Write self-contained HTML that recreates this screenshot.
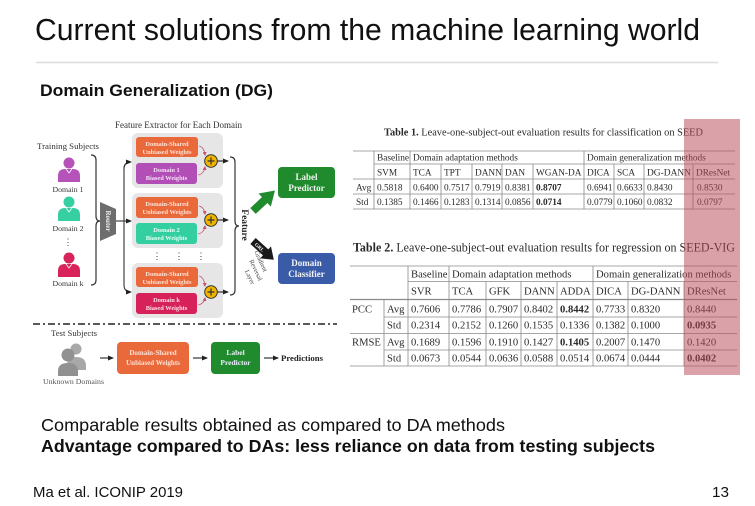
<!DOCTYPE html>
<html><head><meta charset="utf-8">
<style>
html,body{margin:0;padding:0;background:#fff;width:755px;height:506px;overflow:hidden}
svg{display:block}
.s{font-family:"Liberation Sans",Arial,sans-serif}
.r{font-family:"Liberation Serif","Times New Roman",serif}
</style></head><body>
<svg width="755" height="506" viewBox="0 0 755 506" xmlns="http://www.w3.org/2000/svg">
<defs>
<marker id="ah" markerWidth="6" markerHeight="6" refX="5" refY="3" orient="auto" markerUnits="userSpaceOnUse"><path d="M0,0.5 L6,3 L0,5.5 Z" fill="#222"/></marker>
<marker id="ap" markerWidth="4" markerHeight="4" refX="3" refY="2" orient="auto" markerUnits="userSpaceOnUse"><path d="M0,0 L4,2 L0,4 Z" fill="#c8506a"/></marker>
</defs>

<!-- slide text -->
<text class="s" x="35" y="40" font-size="31" textLength="665" lengthAdjust="spacingAndGlyphs" fill="#111">Current solutions from the machine learning world</text>
<line x1="36" y1="62.5" x2="718" y2="62.5" stroke="#dcdcdc" stroke-width="1.5"/>
<text class="s" x="40" y="96" font-size="17" font-weight="bold" textLength="233" lengthAdjust="spacingAndGlyphs" fill="#111">Domain Generalization (DG)</text>
<text class="s" x="41" y="431" font-size="17.5" textLength="464" lengthAdjust="spacingAndGlyphs" fill="#111">Comparable results obtained as compared to DA methods</text>
<text class="s" x="41" y="452" font-size="17.5" font-weight="bold" textLength="614" lengthAdjust="spacingAndGlyphs" fill="#111">Advantage compared to DAs: less reliance on data from testing subjects</text>
<text class="s" x="33" y="497" font-size="15" textLength="150" lengthAdjust="spacingAndGlyphs" fill="#111">Ma et al. ICONIP 2019</text>
<text class="s" x="712" y="497" font-size="15" textLength="17" lengthAdjust="spacingAndGlyphs" fill="#111">13</text>

<!-- ================= DIAGRAM ================= -->
<g class="r" fill="#333">
<text x="115" y="128" font-size="9" textLength="127" lengthAdjust="spacingAndGlyphs">Feature Extractor for Each Domain</text>
<text x="37" y="149" font-size="8.7" textLength="62" lengthAdjust="spacingAndGlyphs">Training Subjects</text>
<text x="68" y="192" font-size="7.8" text-anchor="middle">Domain 1</text>
<text x="68" y="231" font-size="7.8" text-anchor="middle">Domain 2</text>
<text x="68" y="245" font-size="9" text-anchor="middle">⋮</text>
<text x="68" y="286" font-size="7.8" text-anchor="middle">Domain k</text>
</g>

<!-- persons -->
<g>
<circle cx="69" cy="163" r="5.5" fill="#b553b9"/>
<path d="M58,182 L58,176 Q58,169 65,169 L73,169 Q80,169 80,176 L80,182 Z" fill="#b553b9"/>
<path d="M66,169 L69,173 L72,169" stroke="#fff" fill="none" stroke-width="0.8"/>
<circle cx="69" cy="202" r="5.5" fill="#35cfa2"/>
<path d="M58,221 L58,215 Q58,208 65,208 L73,208 Q80,208 80,215 L80,221 Z" fill="#35cfa2"/>
<path d="M66,208 L69,212 L72,208" stroke="#fff" fill="none" stroke-width="0.8"/>
<circle cx="69" cy="258" r="5.5" fill="#d8245a"/>
<path d="M58,277 L58,271 Q58,264 65,264 L73,264 Q80,264 80,271 L80,277 Z" fill="#d8245a"/>
<path d="M66,264 L69,268 L72,264" stroke="#fff" fill="none" stroke-width="0.8"/>
</g>

<!-- left brace -->
<path d="M91,155 Q96,155 96,160 L96,216 Q96,221 100,221 Q96,221 96,226 L96,280 Q96,285 91,285" fill="none" stroke="#333" stroke-width="1.2"/>

<!-- router -->
<polygon points="100,202 116,209 116,234 100,241" fill="#6d6d6d"/>
<text class="r" transform="translate(106,221) rotate(90)" font-size="7" font-weight="bold" fill="#eee" text-anchor="middle">Router</text>

<!-- router branches -->
<path d="M131,162 Q124,162 124,169 L124,285 Q124,292 131,292" fill="none" stroke="#333" stroke-width="1.1" marker-end="url(#ah)"/>
<path d="M124,169 Q124,162 131,162" fill="none" stroke="#333" stroke-width="1.1" marker-end="url(#ah)"/>
<line x1="116" y1="221" x2="131" y2="221" stroke="#333" stroke-width="1.1" marker-end="url(#ah)"/>

<!-- groups -->
<rect x="132" y="133" width="91" height="55" rx="6" fill="#e6e6e6"/>
<rect x="132" y="193" width="91" height="55" rx="6" fill="#e6e6e6"/>
<rect x="132" y="263" width="91" height="55" rx="6" fill="#e6e6e6"/>

<g class="r" font-size="6.4" font-weight="bold" fill="#fde2d6" text-anchor="middle">
<rect x="136" y="137" width="62" height="20" rx="3" fill="#e9693a"/>
<text x="167" y="146">Domain-Shared</text><text x="167" y="154">Unbiased Weights</text>
<rect x="136" y="163" width="61" height="21" rx="3" fill="#b14fb6"/>
<text x="166.5" y="172" fill="#f6e0f6">Domain 1</text><text x="166.5" y="180" fill="#f6e0f6">Biased Weights</text>

<rect x="136" y="197" width="62" height="21" rx="3" fill="#e9693a"/>
<text x="167" y="206">Domain-Shared</text><text x="167" y="214">Unbiased Weights</text>
<rect x="136" y="223" width="61" height="21" rx="3" fill="#33cfa1"/>
<text x="166.5" y="232" fill="#e8fff6">Domain 2</text><text x="166.5" y="240" fill="#e8fff6">Biased Weights</text>

<rect x="136" y="267" width="62" height="20" rx="3" fill="#e9693a"/>
<text x="167" y="276">Domain-Shared</text><text x="167" y="284">Unbiased Weights</text>
<rect x="136" y="293" width="61" height="21" rx="3" fill="#d6215a"/>
<text x="166.5" y="302" fill="#ffe0ea">Domain k</text><text x="166.5" y="310" fill="#ffe0ea">Biased Weights</text>
</g>

<!-- dots between groups -->
<g class="r" font-size="9" fill="#333" text-anchor="middle">
<text x="157" y="259">⋮</text><text x="179" y="259">⋮</text><text x="201" y="259">⋮</text>
</g>

<!-- small pink arrows -->
<g fill="none" stroke="#c8506a" stroke-width="0.8">
<path d="M199,146 Q204,147 205,155" marker-end="url(#ap)"/>
<path d="M198,175 Q204,174 205,167" marker-end="url(#ap)"/>
<path d="M199,206 Q204,207 205,214" marker-end="url(#ap)"/>
<path d="M198,234 Q204,233 205,226" marker-end="url(#ap)"/>
<path d="M199,276 Q204,277 205,286" marker-end="url(#ap)"/>
<path d="M198,305 Q204,304 205,298" marker-end="url(#ap)"/>
</g>

<!-- plus circles -->
<g stroke="#333">
<circle cx="211" cy="161" r="6.3" fill="#f1b500" stroke-width="1"/>
<path d="M207.5,161 H214.5 M211,157.5 V164.5" stroke-width="1.2"/>
<circle cx="211" cy="220" r="6.3" fill="#f1b500" stroke-width="1"/>
<path d="M207.5,220 H214.5 M211,216.5 V223.5" stroke-width="1.2"/>
<circle cx="211" cy="292" r="6.3" fill="#f1b500" stroke-width="1"/>
<path d="M207.5,292 H214.5 M211,288.5 V295.5" stroke-width="1.2"/>
</g>
<g stroke="#222" stroke-width="1.1">
<line x1="217" y1="161" x2="228" y2="161" marker-end="url(#ah)"/>
<line x1="217" y1="220" x2="228" y2="220" marker-end="url(#ah)"/>
<line x1="217" y1="292" x2="228" y2="292" marker-end="url(#ah)"/>
</g>

<!-- right brace -->
<path d="M230,157 Q235,157 235,162 L235,221 Q235,226 239,226 Q235,226 235,231 L235,290 Q235,295 230,295" fill="none" stroke="#333" stroke-width="1.2"/>
<text class="r" transform="translate(242,225) rotate(90)" font-size="9.5" font-weight="bold" fill="#222" text-anchor="middle">Feature</text>

<!-- green arrow -->
<polygon transform="translate(253,211) rotate(-43)" points="0,-4 16,-4 16,-9 30,0 16,9 16,4 0,4" fill="#1f8b2c"/>
<!-- GRL arrow -->
<g transform="translate(253,241) rotate(42)">
<polygon points="0,-4 17,-4 17,-8 28,0 17,8 17,4 0,4" fill="#1a1a1a"/>
<text class="r" x="9" y="2" font-size="5" font-weight="bold" fill="#fff" text-anchor="middle">GRL</text>
</g>
<g class="r" font-size="6.5" fill="#444" text-anchor="middle">
<text transform="translate(259,262) rotate(65)">Gradient</text>
<text transform="translate(254,271) rotate(65)">Reversal</text>
<text transform="translate(248,278) rotate(65)">Layer</text>
</g>

<!-- predictor / classifier -->
<rect x="278" y="167" width="57" height="31" rx="4" fill="#1f8b2c"/>
<rect x="278" y="253" width="57" height="31" rx="4" fill="#3a5ba8"/>
<g class="r" font-size="9" font-weight="bold" fill="#f4f4f4" text-anchor="middle">
<text x="306.5" y="180">Label</text><text x="306.5" y="191">Predictor</text>
<text x="306.5" y="266">Domain</text><text x="306.5" y="277">Classifier</text>
</g>

<!-- separator dash-dot -->
<line x1="33" y1="324" x2="337" y2="324" stroke="#222" stroke-width="1.5" stroke-dasharray="7 3 2 3"/>

<!-- test part -->
<text class="r" x="51" y="336" font-size="8.6" fill="#333" textLength="46" lengthAdjust="spacingAndGlyphs">Test Subjects</text>
<circle cx="76" cy="349" r="5.5" fill="#a8a8a8"/>
<path d="M66,370 Q66,357 76,357 Q86,357 86,366 L86,370 Z" fill="#a8a8a8"/>
<circle cx="68" cy="355" r="6.5" fill="#919191"/>
<path d="M58,376 L58,371 Q58,363 68,363 Q78,363 78,371 L78,376 Z" fill="#919191"/>
<text class="r" x="43" y="384" font-size="7.8" fill="#555" textLength="61" lengthAdjust="spacingAndGlyphs">Unknown Domains</text>
<line x1="100" y1="358" x2="113" y2="358" stroke="#222" stroke-width="1.1" marker-end="url(#ah)"/>
<rect x="117" y="342" width="72" height="32" rx="4" fill="#e9693a"/>
<g class="r" font-size="7" font-weight="bold" fill="#fde2d6" text-anchor="middle">
<text x="153" y="355">Domain-Shared</text><text x="153" y="365">Unbiased Weights</text>
</g>
<line x1="193" y1="358" x2="207" y2="358" stroke="#222" stroke-width="1.1" marker-end="url(#ah)"/>
<rect x="211" y="342" width="49" height="32" rx="4" fill="#1f8b2c"/>
<g class="r" font-size="7.5" font-weight="bold" fill="#eef" text-anchor="middle">
<text x="235.5" y="355">Label</text><text x="235.5" y="365">Predictor</text>
</g>
<line x1="264" y1="358" x2="278" y2="358" stroke="#222" stroke-width="1.1" marker-end="url(#ah)"/>
<text class="r" x="281" y="361" font-size="8.7" font-weight="bold" fill="#222" textLength="42" lengthAdjust="spacingAndGlyphs">Predictions</text>

<!-- ================= TABLE 1 ================= -->
<g class="r" fill="#2a2a2a">
<text x="384" y="135.5" font-size="10.8" textLength="319" lengthAdjust="spacingAndGlyphs"><tspan font-weight="bold">Table 1.</tspan> Leave-one-subject-out evaluation results for classification on SEED</text>
</g>
<g stroke="#8a8a8a" stroke-width="0.8">
<line x1="353" y1="151" x2="735" y2="151"/>
<line x1="374" y1="164" x2="735" y2="164"/>
<line x1="353" y1="179" x2="735" y2="179"/>
<line x1="353" y1="194" x2="735" y2="194"/>
<line x1="353" y1="209" x2="735" y2="209"/>
<line x1="374" y1="151" x2="374" y2="209"/>
<line x1="410" y1="151" x2="410" y2="209"/>
<line x1="584" y1="151" x2="584" y2="209"/>
<line x1="441" y1="164" x2="441" y2="209"/>
<line x1="472" y1="164" x2="472" y2="209"/>
<line x1="502" y1="164" x2="502" y2="209"/>
<line x1="533" y1="164" x2="533" y2="209"/>
<line x1="614" y1="164" x2="614" y2="209"/>
<line x1="644" y1="164" x2="644" y2="209"/>
<line x1="693" y1="164" x2="693" y2="209"/>
</g>
<g class="r" font-size="9.3" fill="#2a2a2a">
<text x="377" y="160.5">Baseline</text>
<text x="413" y="160.5">Domain adaptation methods</text>
<text x="587" y="160.5">Domain generalization methods</text>
<text x="377" y="175.5">SVM</text><text x="413" y="175.5">TCA</text><text x="444" y="175.5">TPT</text><text x="475" y="175.5">DANN</text><text x="505" y="175.5">DAN</text><text x="536" y="175.5">WGAN-DA</text><text x="587" y="175.5">DICA</text><text x="617" y="175.5">SCA</text><text x="647" y="175.5" textLength="44" lengthAdjust="spacingAndGlyphs">DG-DANN</text><text x="696" y="175.5">DResNet</text>
<text x="356" y="190.5">Avg</text><text x="377" y="190.5">0.5818</text><text x="413" y="190.5">0.6400</text><text x="444" y="190.5">0.7517</text><text x="475" y="190.5">0.7919</text><text x="505" y="190.5">0.8381</text><text x="536" y="190.5" font-weight="bold">0.8707</text><text x="587" y="190.5">0.6941</text><text x="617" y="190.5">0.6633</text><text x="647" y="190.5">0.8430</text><text x="697" y="190.5">0.8530</text>
<text x="356" y="205">Std</text><text x="377" y="205">0.1385</text><text x="413" y="205">0.1466</text><text x="444" y="205">0.1283</text><text x="475" y="205">0.1314</text><text x="505" y="205">0.0856</text><text x="536" y="205" font-weight="bold">0.0714</text><text x="587" y="205">0.0779</text><text x="617" y="205">0.1060</text><text x="647" y="205">0.0832</text><text x="697" y="205">0.0797</text>
</g>

<!-- ================= TABLE 2 ================= -->
<text class="r" x="353" y="251.5" font-size="12.6" fill="#2a2a2a" textLength="382" lengthAdjust="spacingAndGlyphs"><tspan font-weight="bold">Table 2.</tspan> Leave-one-subject-out evaluation results for regression on SEED-VIG</text>
<g stroke="#8a8a8a" stroke-width="0.8">
<line x1="350" y1="266" x2="737" y2="266"/>
<line x1="408" y1="281.5" x2="737" y2="281.5"/>
<line x1="350" y1="299.5" x2="737" y2="299.5" stroke-width="1.2"/>
<line x1="384" y1="317" x2="737" y2="317"/>
<line x1="350" y1="333.5" x2="737" y2="333.5"/>
<line x1="384" y1="350" x2="737" y2="350"/>
<line x1="350" y1="366" x2="737" y2="366"/>
<line x1="384" y1="299.5" x2="384" y2="366"/>
<line x1="408" y1="266" x2="408" y2="366"/>
<line x1="449" y1="266" x2="449" y2="366"/>
<line x1="593" y1="266" x2="593" y2="366"/>
<line x1="486" y1="281.5" x2="486" y2="366"/>
<line x1="521" y1="281.5" x2="521" y2="366"/>
<line x1="557" y1="281.5" x2="557" y2="366"/>
<line x1="628" y1="281.5" x2="628" y2="366"/>
<line x1="684" y1="281.5" x2="684" y2="366"/>
</g>
<g class="r" font-size="10.6" fill="#2a2a2a">
<text x="411" y="277.7">Baseline</text>
<text x="452" y="277.7">Domain adaptation methods</text>
<text x="596" y="277.7">Domain generalization methods</text>
<text x="411" y="294.7">SVR</text><text x="452" y="294.7">TCA</text><text x="489" y="294.7">GFK</text><text x="524" y="294.7">DANN</text><text x="560" y="294.7">ADDA</text><text x="596" y="294.7">DICA</text><text x="631" y="294.7">DG-DANN</text><text x="687" y="294.7">DResNet</text>
<text x="352" y="312.7">PCC</text><text x="387" y="312.7">Avg</text><text x="411" y="312.7">0.7606</text><text x="452" y="312.7">0.7786</text><text x="489" y="312.7">0.7907</text><text x="524" y="312.7">0.8402</text><text x="560" y="312.7" font-weight="bold">0.8442</text><text x="596" y="312.7">0.7733</text><text x="631" y="312.7">0.8320</text><text x="687" y="312.7">0.8440</text>
<text x="387" y="328.7">Std</text><text x="411" y="328.7">0.2314</text><text x="452" y="328.7">0.2152</text><text x="489" y="328.7">0.1260</text><text x="524" y="328.7">0.1535</text><text x="560" y="328.7">0.1336</text><text x="596" y="328.7">0.1382</text><text x="631" y="328.7">0.1000</text><text x="687" y="328.7" font-weight="bold">0.0935</text>
<text x="352" y="345.7">RMSE</text><text x="387" y="345.7">Avg</text><text x="411" y="345.7">0.1689</text><text x="452" y="345.7">0.1596</text><text x="489" y="345.7">0.1910</text><text x="524" y="345.7">0.1427</text><text x="560" y="345.7" font-weight="bold">0.1405</text><text x="596" y="345.7">0.2007</text><text x="631" y="345.7">0.1470</text><text x="687" y="345.7">0.1420</text>
<text x="387" y="361.7">Std</text><text x="411" y="361.7">0.0673</text><text x="452" y="361.7">0.0544</text><text x="489" y="361.7">0.0636</text><text x="524" y="361.7">0.0588</text><text x="560" y="361.7">0.0514</text><text x="596" y="361.7">0.0674</text><text x="631" y="361.7">0.0444</text><text x="687" y="361.7" font-weight="bold">0.0402</text>
</g>

<!-- red highlight overlay -->
<rect x="684" y="119" width="56" height="256" fill="#b84a58" fill-opacity="0.52"/>
</svg>
</body></html>
